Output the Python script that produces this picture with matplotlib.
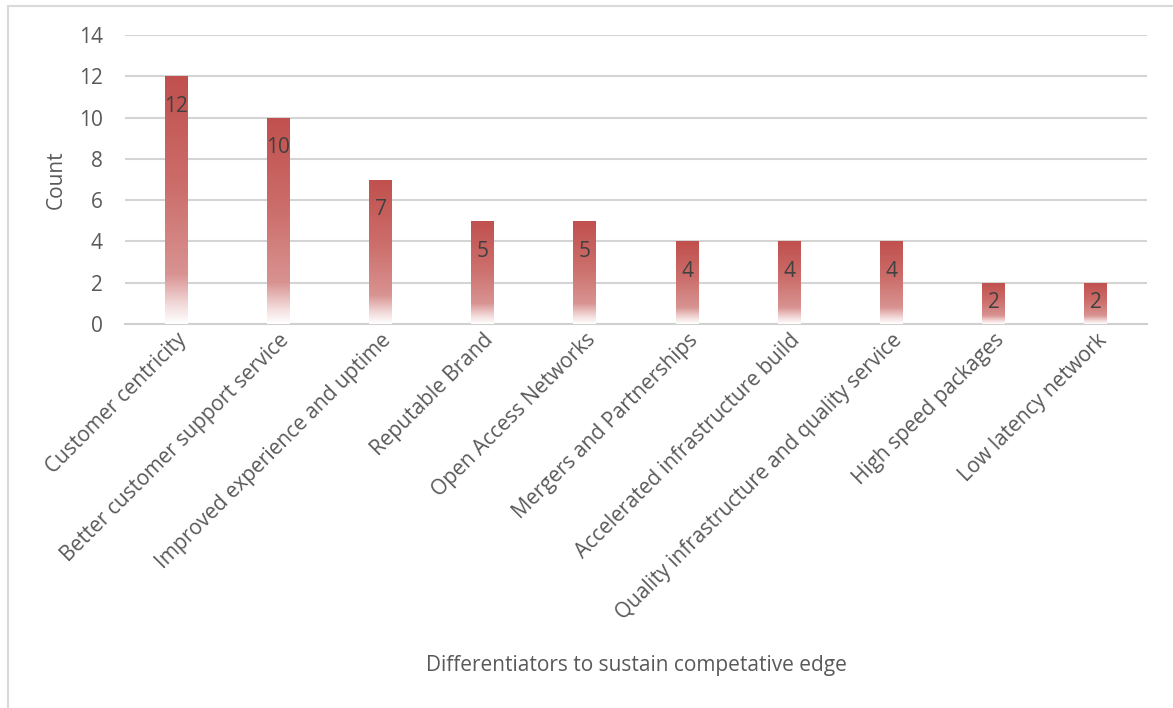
import numpy as np
import matplotlib.pyplot as plt
from matplotlib.colors import LinearSegmentedColormap
from matplotlib.patches import Rectangle

plt.rcParams['font.family'] = ['Open Sans', 'DejaVu Sans']

categories = [
    'Customer centricity',
    'Better customer support service',
    'Improved experience and uptime',
    'Reputable Brand',
    'Open Access Networks',
    'Mergers and Partnerships',
    'Accelerated infrastructure build',
    'Quality infrastructure and quality service',
    'High speed packages',
    'Low latency network',
]
counts = [12, 10, 7, 5, 5, 4, 4, 4, 2, 2]
y_ticks = [0, 2, 4, 6, 8, 10, 12, 14]

# red fading to white towards the base of each bar
bar_cmap = LinearSegmentedColormap.from_list(
    'bar_fade',
    [(0.0, '#ffffff'), (0.07, '#f4dede'), (0.2, '#d89391'), (0.55, '#cc6e6b'), (1.0, '#c0504d')],
)
grad = np.linspace(0, 1, 256).reshape(-1, 1)

fig = plt.figure(figsize=(11.73, 7.08), dpi=100)
fig.patches.append(Rectangle((8 / 1173, -0.1), 1.2, (708 - 6) / 708 + 0.1,
                             transform=fig.transFigure, fill=False,
                             edgecolor='#d9d9d9', linewidth=1.5))

ax = fig.add_axes([125 / 1173, (708 - 324) / 708, 1022 / 1173, 289 / 708])

x = np.arange(len(categories))
bars = ax.bar(x, counts, width=0.225, color='none', edgecolor='none', zorder=3)
for rect in bars:
    x0, w, h = rect.get_x(), rect.get_width(), rect.get_height()
    im = ax.imshow(grad, cmap=bar_cmap, origin='lower', aspect='auto',
                   extent=(x0, x0 + w, 0, h), zorder=3, interpolation='bicubic')
    im.set_clip_path(rect)

ax.set_xlim(-0.5, len(categories) - 0.5)
ax.set_ylim(0, 14)

# value labels just inside the top of each bar, pulled up on short bars
px_per_unit = ax.get_window_extent().height / 14
for xi, v in zip(x, counts):
    drop = min(20.0, 0.31 * v * px_per_unit)
    ax.annotate(str(v), (xi, v), xytext=(0, -drop), textcoords='offset points',
                ha='center', va='center_baseline', fontsize=15, color='#404040', zorder=4)

ax.set_yticks(y_ticks)
ax.tick_params(axis='y', length=0, pad=16, labelsize=15, labelcolor='#595959')
ax.tick_params(axis='x', length=0, pad=4)
ax.set_xticks(x)
ax.set_xticklabels(categories, rotation=45, ha='right', va='top',
                   rotation_mode='anchor', fontsize=15, color='#595959')
ax.grid(axis='y', color='#d4d4d4', linewidth=1.5, zorder=0)
ax.set_axisbelow(True)
for side in ['top', 'right', 'left']:
    ax.spines[side].set_visible(False)
ax.spines['bottom'].set_color('#d0d0d0')
ax.spines['bottom'].set_linewidth(1.5)

ax.set_ylabel('Count', fontsize=15, color='#595959')
ax.yaxis.set_label_coords((67 - 125) / 1022, (324 - 180) / 289)
fig.text(636 / 1173, 1 - 665 / 708, 'Differentiators to sustain competative edge',
         ha='center', va='center', fontsize=15, color='#595959')

fig.savefig('out.png', dpi=100)
